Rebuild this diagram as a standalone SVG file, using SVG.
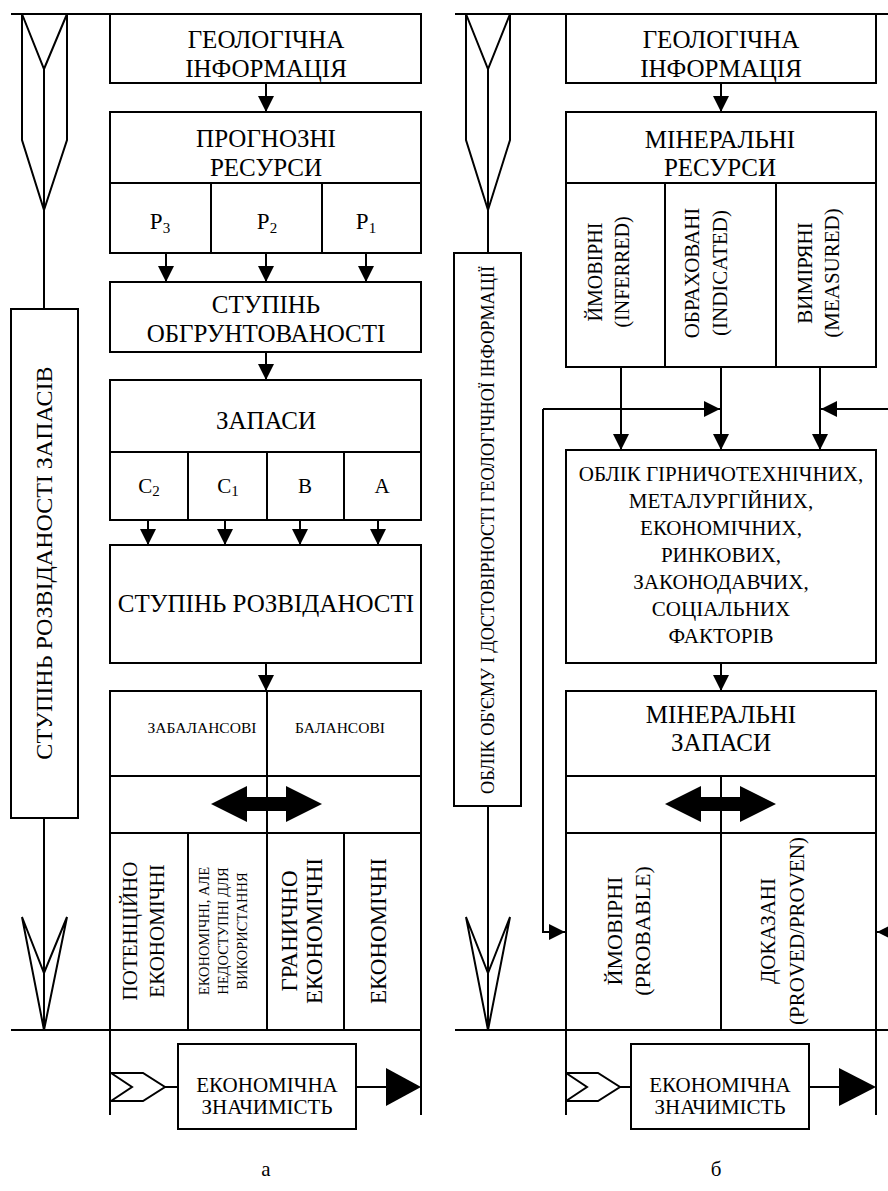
<svg xmlns="http://www.w3.org/2000/svg" width="888" height="1191" viewBox="0 0 888 1191">
<style>
.ln{stroke:#000;stroke-width:2;fill:none}
.bx{stroke:#000;stroke-width:2;fill:#fff}
.fl{fill:#000;stroke:none}
text{font-family:"Liberation Serif","DejaVu Serif","Times New Roman",serif;fill:#000;text-anchor:middle}
.t{font-size:25px}
.v{font-size:23px}
.m{font-size:21px}
.o{font-size:21px}
.s{font-size:15.5px}
.xs{font-size:14.5px}
.sub{font-size:15px}
</style>
<defs>
<marker id="ah" markerUnits="userSpaceOnUse" viewBox="0 0 16 16" markerWidth="16" markerHeight="16" refX="16" refY="8" orient="auto">
<path d="M0,0 L16,8 L0,16 z" fill="#000"/>
</marker>
</defs>
<rect width="888" height="1191" fill="#fff"/>

<g id="frame-lines">
<path class="ln" d="M11,14 H421 M455,14 H888 M11,1030 H421 M455,1030 H888"/>
<path class="ln" d="M110,1030 V1115 M421,1030 V1115 M566,1030 V1115 M876,1030 V1115"/>
</g>

<g id="left-big-arrow">
<path class="ln" d="M22,14 L22,140 L44,210 L67,140 L67,14 M22,14 L44,69 L67,14 M44,69 V309 M44,818 V1030"/>
<path class="ln" d="M22,917 L44,1030 L67,917 L44,973 Z"/>
</g>
<g id="left-axis-label">
<rect class="bx" x="11" y="309" width="67" height="509"/>
<text style="font-size:24px" transform="translate(52,563) rotate(-90)">СТУПІНЬ РОЗВІДАНОСТІ ЗАПАСІВ</text>
</g>

<g id="mid-big-arrow">
<path class="ln" d="M466,14 L466,140 L488,210 L510,140 L510,14 M466,14 L488,69 L510,14 M488,69 V253 M488,806 V1030"/>
<path class="ln" d="M466,917 L488,1030 L510,917 L488,973 Z"/>
</g>
<g id="mid-axis-label">
<rect class="bx" x="454" y="253" width="67" height="553"/>
<text style="font-size:18.2px" transform="translate(494,530) rotate(-90)">ОБЛІК ОБ'ЄМУ І ДОСТОВІРНОСТІ ГЕОЛОГІЧНОЇ ІНФОРМАЦІЇ</text>
</g>

<!-- LEFT COLUMN -->
<g id="L-geo">
<rect class="bx" x="110" y="14" width="311" height="69"/>
<text class="t" x="266" y="48">ГЕОЛОГІЧНА</text>
<text class="t" x="266" y="77">ІНФОРМАЦІЯ</text>
</g>
<g id="L-prognoz">
<rect class="bx" x="110" y="112" width="311" height="141"/>
<path class="ln" d="M110,183 H421 M211,183 V253 M322,183 V253"/>
<text class="t" x="266" y="147">ПРОГНОЗНІ</text>
<text class="t" x="266" y="176">РЕСУРСИ</text>
<text class="v" x="160" y="229">P<tspan class="sub" dy="4">3</tspan></text>
<text class="v" x="267" y="229">P<tspan class="sub" dy="4">2</tspan></text>
<text class="v" x="366" y="229">P<tspan class="sub" dy="4">1</tspan></text>
</g>
<g id="L-obgr">
<rect class="bx" x="110" y="282" width="311" height="70"/>
<text class="t" x="266" y="313">СТУПІНЬ</text>
<text class="t" x="266" y="342">ОБГРУНТОВАНОСТІ</text>
</g>
<g id="L-zapasy">
<rect class="bx" x="110" y="380" width="311" height="140"/>
<path class="ln" d="M110,452 H421 M188,452 V520 M267,452 V520 M344,452 V520"/>
<text class="t" x="266" y="429">ЗАПАСИ</text>
<text class="m" x="149" y="493">C<tspan class="sub" dy="3">2</tspan></text>
<text class="m" x="228" y="493">C<tspan class="sub" dy="3">1</tspan></text>
<text class="m" x="305" y="493">B</text>
<text class="m" x="382" y="493">A</text>
</g>
<g id="L-rozvid">
<rect class="bx" x="110" y="545" width="311" height="118"/>
<text class="t" x="266" y="612">СТУПІНЬ РОЗВІДАНОСТІ</text>
</g>
<g id="L-balance">
<rect class="bx" x="110" y="691" width="311" height="339"/>
<path class="ln" d="M110,776 H421 M110,833 H421 M267,691 V1030 M188,833 V1030 M344,833 V1030"/>
<text class="s" x="202" y="733">ЗАБАЛАНСОВІ</text>
<text class="s" x="340" y="733">БАЛАНСОВІ</text>
<polygon class="fl" points="211,804 247,786 247,797 286,797 286,786 322,804 286,822 286,811 247,811 247,822"/>
<text class="m" transform="translate(137,931) rotate(-90)">ПОТЕНЦІЙНО</text>
<text class="m" transform="translate(164,931) rotate(-90)">ЕКОНОМІЧНІ</text>
<text class="xs" transform="translate(209,931) rotate(-90)">ЕКОНОМІЧНІ, АЛЕ</text>
<text class="xs" transform="translate(228,931) rotate(-90)">НЕДОСТУПНІ ДЛЯ</text>
<text class="xs" transform="translate(247,931) rotate(-90)">ВИКОРИСТАННЯ</text>
<text class="v" transform="translate(297,931) rotate(-90)">ГРАНИЧНО</text>
<text class="v" transform="translate(322,931) rotate(-90)">ЕКОНОМІЧНІ</text>
<text class="v" transform="translate(386,931) rotate(-90)">ЕКОНОМІЧНІ</text>
</g>
<g id="L-econ">
<rect class="bx" x="178" y="1044" width="178" height="85"/>
<text class="m" x="267" y="1092">ЕКОНОМІЧНА</text>
<text class="m" x="267" y="1114">ЗНАЧИМІСТЬ</text>
<path class="ln" d="M111,1073 L143,1073 L165,1087 L143,1101 L111,1101 M111,1073 L132,1087 L111,1101 M165,1087 H178 M356,1087 H386"/>
<polygon class="fl" points="386,1068 421,1087 386,1106"/>
</g>

<!-- RIGHT COLUMN -->
<g id="R-geo">
<rect class="bx" x="566" y="14" width="310" height="69"/>
<text class="t" x="721" y="48">ГЕОЛОГІЧНА</text>
<text class="t" x="721" y="77">ІНФОРМАЦІЯ</text>
</g>
<g id="R-resursy">
<rect class="bx" x="566" y="112" width="310" height="255"/>
<path class="ln" d="M566,183 H876 M665,183 V367 M776,183 V367"/>
<text class="t" x="720" y="148">МІНЕРАЛЬНІ</text>
<text class="t" x="720" y="176">РЕСУРСИ</text>
<text style="font-size:20px" transform="translate(602,272) rotate(-90)">ЙМОВІРНІ</text>
<text style="font-size:20px" transform="translate(629,272) rotate(-90)">(INFERRED)</text>
<text class="m" transform="translate(699,273) rotate(-90)">ОБРАХОВАНІ</text>
<text class="m" transform="translate(727,273) rotate(-90)">(INDICATED)</text>
<text class="m" transform="translate(812,273) rotate(-90)">ВИМІРЯНІ</text>
<text class="m" transform="translate(839,273) rotate(-90)">(MEASURED)</text>
</g>
<g id="R-oblik">
<rect class="bx" x="566" y="450" width="310" height="213"/>
<text class="o" x="721" y="481">ОБЛІК ГІРНИЧОТЕХНІЧНИХ,</text>
<text class="o" x="721" y="508">МЕТАЛУРГІЙНИХ,</text>
<text class="o" x="721" y="535">ЕКОНОМІЧНИХ,</text>
<text class="o" x="721" y="562">РИНКОВИХ,</text>
<text class="o" x="721" y="589">ЗАКОНОДАВЧИХ,</text>
<text class="o" x="721" y="616">СОЦІАЛЬНИХ</text>
<text class="o" x="721" y="643">ФАКТОРІВ</text>
</g>
<g id="R-zapasy">
<rect class="bx" x="566" y="691" width="310" height="339"/>
<path class="ln" d="M566,776 H876 M566,833 H876 M721,776 V1030"/>
<text class="t" x="721" y="723">МІНЕРАЛЬНІ</text>
<text class="t" x="721" y="751">ЗАПАСИ</text>
<polygon class="fl" points="665,804 701,786 701,797 740,797 740,786 776,804 740,822 740,811 701,811 701,822"/>
<text style="font-size:22px" transform="translate(622,931) rotate(-90)">ЙМОВІРНІ</text>
<text style="font-size:22px" transform="translate(650,931) rotate(-90)">(PROBABLE)</text>
<text class="m" transform="translate(775,931) rotate(-90)">ДОКАЗАНІ</text>
<text class="m" transform="translate(804,931) rotate(-90)">(PROVED/PROVEN)</text>
</g>
<g id="R-econ">
<rect class="bx" x="631" y="1044" width="178" height="85"/>
<text class="m" x="720" y="1092">ЕКОНОМІЧНА</text>
<text class="m" x="720" y="1114">ЗНАЧИМІСТЬ</text>
<path class="ln" d="M566,1073 L598,1073 L620,1087 L598,1101 L566,1101 M566,1073 L587,1087 L566,1101 M620,1087 H631 M809,1087 H839"/>
<polygon class="fl" points="839,1068 876,1087 839,1106"/>
</g>

<g id="connectors">
<path class="ln" marker-end="url(#ah)" d="M266,83 V112"/>
<path class="ln" marker-end="url(#ah)" d="M166,253 V282"/>
<path class="ln" marker-end="url(#ah)" d="M266,253 V282"/>
<path class="ln" marker-end="url(#ah)" d="M366,253 V282"/>
<path class="ln" marker-end="url(#ah)" d="M266,352 V380"/>
<path class="ln" marker-end="url(#ah)" d="M148,520 V545"/>
<path class="ln" marker-end="url(#ah)" d="M225,520 V545"/>
<path class="ln" marker-end="url(#ah)" d="M300,520 V545"/>
<path class="ln" marker-end="url(#ah)" d="M378,520 V545"/>
<path class="ln" marker-end="url(#ah)" d="M266,663 V691"/>
<path class="ln" marker-end="url(#ah)" d="M721,83 V112"/>
<path class="ln" marker-end="url(#ah)" d="M621,367 V450"/>
<path class="ln" marker-end="url(#ah)" d="M721,367 V450"/>
<path class="ln" marker-end="url(#ah)" d="M820,367 V450"/>
<path class="ln" marker-end="url(#ah)" d="M543,409 H720"/>
<path class="ln" marker-end="url(#ah)" d="M543,409 V932 H565"/>
<path class="ln" marker-end="url(#ah)" d="M900,409 H821"/>
<path class="ln" marker-end="url(#ah)" d="M900,932 H877"/>
<path class="ln" marker-end="url(#ah)" d="M721,663 V691"/>
</g>

<g id="captions">
<text class="m" x="266" y="1176">а</text>
<text class="m" x="716" y="1176">б</text>
</g>
</svg>
